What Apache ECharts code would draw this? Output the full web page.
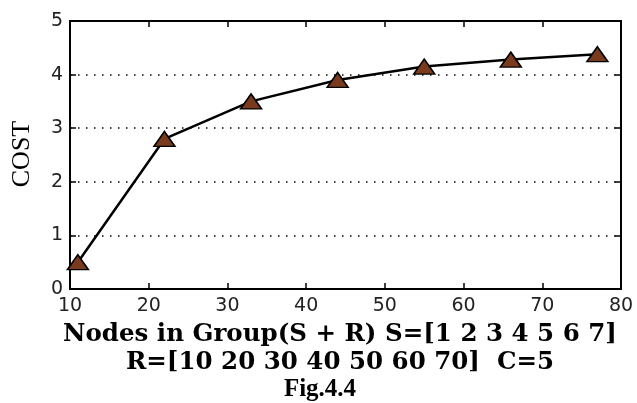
<!DOCTYPE html>
<html>
<head>
<meta charset="utf-8">
<script src="https://cdn.jsdelivr.net/npm/echarts@6/dist/echarts.min.js"></script>
<style>html,body{margin:0;padding:0;background:#fff}#c{width:637px;height:403px}</style>
</head>
<body>
<div id="c"></div>
<script>
var nodes = [11, 22, 33, 44, 55, 66, 77];
var cost = [0.5, 2.8, 3.5, 3.9, 4.15, 4.28, 4.38];
var xTicks = [10, 20, 30, 40, 50, 60, 70, 80];
var yTicks = [0, 1, 2, 3, 4, 5];
var xTitle1 = 'Nodes in Group(S + R) S=[1 2 3 4 5 6 7]';
var xTitle2 = 'R=[10 20 30 40 50 60 70]  C=5';
var figLabel = 'Fig.4.4';
var yTitle = 'COST';

function mkAxis(kind, pos, showLabel) {
  var isX = kind === 'x';
  var ticks = isX ? xTicks : yTicks;
  var a = {
    type: 'value',
    gridIndex: 0,
    min: ticks[0],
    max: ticks[ticks.length - 1],
    interval: ticks[1] - ticks[0],
    position: pos,
    axisLine: {show: true, onZero: false, lineStyle: {color: '#000', width: 2}},
    axisTick: {show: true, inside: true, length: 6, lineStyle: {color: '#000', width: 1.5}},
    axisLabel: showLabel ? {show: true, color: '#222', fontFamily: 'DejaVu Sans', fontSize: 19, margin: isX ? 8 : 7} : {show: false},
    splitLine: {show: false}
  };
  if (!isX && showLabel) {
    a.splitLine = {show: true, lineStyle: {color: '#000', type: [1.5, 6.5], width: 1.5}};
  }
  return a;
}

var chart = echarts.init(document.getElementById('c'), null, {renderer: 'canvas'});
chart.setOption({
  animation: false,
  grid: {left: 70, right: 16, top: 21, bottom: 114, containLabel: false,
    show: true, borderColor: '#000', borderWidth: 2, backgroundColor: 'transparent'},
  xAxis: [mkAxis('x', 'bottom', true), mkAxis('x', 'top', false)],
  yAxis: [mkAxis('y', 'left', true), mkAxis('y', 'right', false)],
  series: [{
    type: 'line',
    data: nodes.map(function (x, i) { return [x, cost[i]]; }),
    lineStyle: {color: '#000', width: 2.5},
    symbol: 'triangle',
    symbolSize: [21, 15],
    itemStyle: {color: '#7a3a1e', borderColor: '#000', borderWidth: 1.5},
    z: 5
  }],
  graphic: [
    {type: 'text', x: 22, y: 154, rotation: Math.PI / 2,
      style: {text: yTitle, font: '26px "Liberation Serif"', fill: '#000', align: 'center', verticalAlign: 'middle'}},
    {type: 'text', x: 340, y: 335,
      style: {text: xTitle1, font: 'bold 24.5px "DejaVu Serif"', fill: '#000', align: 'center', verticalAlign: 'middle'}},
    {type: 'text', x: 340, y: 363,
      style: {text: xTitle2, font: 'bold 24.5px "DejaVu Serif"', fill: '#000', align: 'center', verticalAlign: 'middle'}},
    {type: 'text', x: 320, y: 390,
      style: {text: figLabel, font: 'bold 25px "Liberation Serif"', fill: '#000', align: 'center', verticalAlign: 'middle'}}
  ]
});
</script>
</body>
</html>
